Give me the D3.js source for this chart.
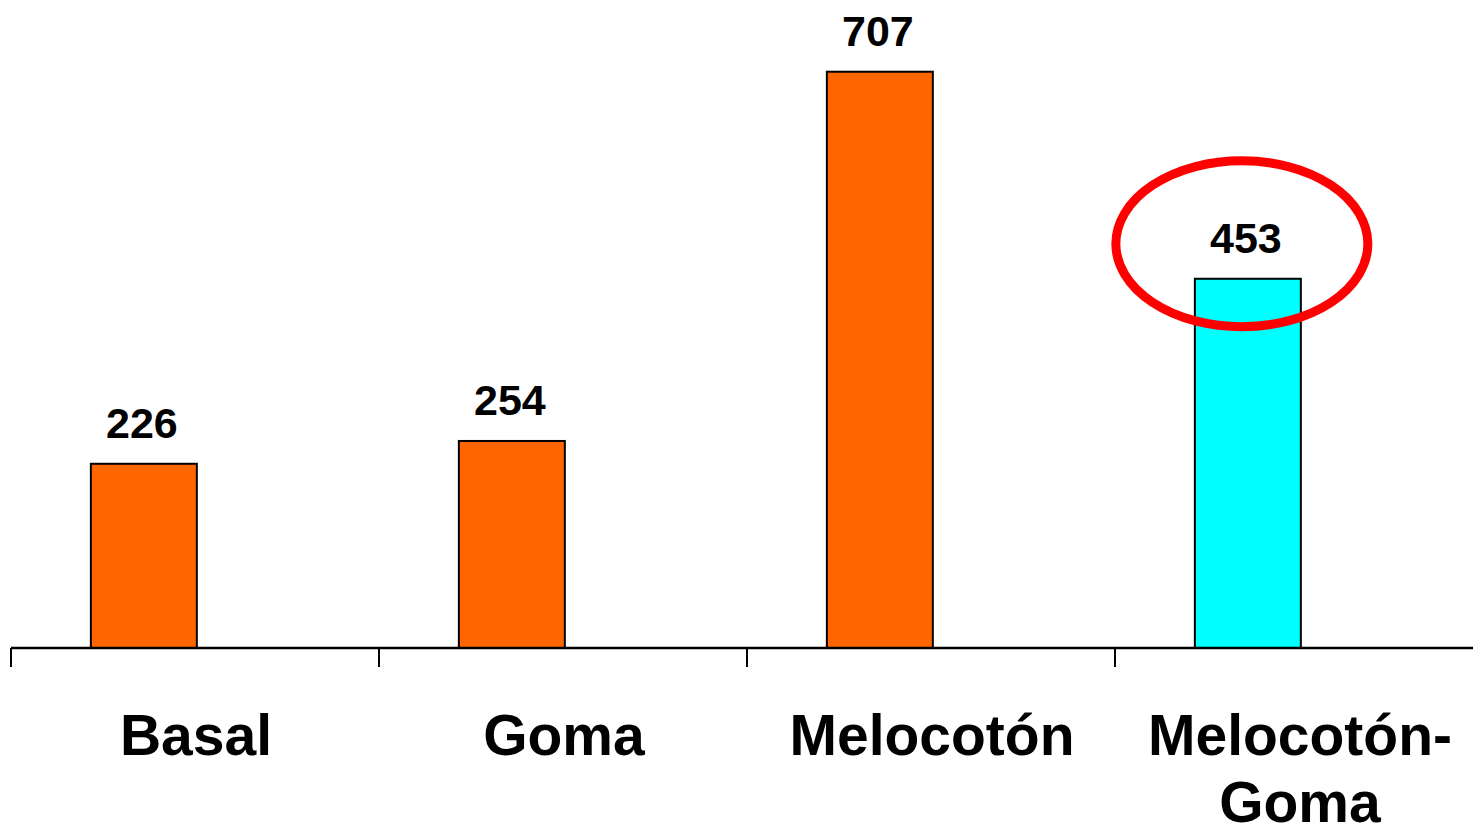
<!DOCTYPE html>
<html>
<head>
<meta charset="utf-8">
<script src="https://cdn.jsdelivr.net/npm/d3@7"></script>
<style>
  html, body { margin: 0; padding: 0; background: #fff; overflow: hidden; }
  svg { display: block; }
</style>
</head>
<body>
<svg id="chart" width="1473" height="832"></svg>
<script>
const categories = ["Basal", "Goma", "Melocotón", "Melocotón-Goma"];
const categoryLines = [["Basal"], ["Goma"], ["Melocotón"], ["Melocotón-", "Goma"]];
const values = [226, 254, 707, 453];
const barColors = ["#FF6600", "#FF6600", "#FF6600", "#00FFFF"];
const highlighted = "Melocotón-Goma";

const svg = d3.select("#chart");
const baseY = 648;

const x = d3.scaleBand().domain(categories).range([11, 11 + 4 * 368]).padding(0);
const y = d3.scaleLinear().domain([0, 795]).range([baseY, 0]);
const bw = x.bandwidth();
const barOff = bw * 0.217, barW = bw * 0.288;

// bars
svg.selectAll("rect.bar").data(categories).join("rect")
  .attr("class", "bar")
  .attr("x", d => x(d) + barOff)
  .attr("y", (d, i) => y(values[i]))
  .attr("width", barW)
  .attr("height", (d, i) => baseY - y(values[i]))
  .attr("fill", (d, i) => barColors[i])
  .attr("stroke", "#000")
  .attr("stroke-width", 2);

// value labels
svg.selectAll("text.val").data(categories).join("text")
  .attr("class", "val")
  .attr("x", d => x(d) + barOff + barW / 2 - 2)
  .attr("y", (d, i) => y(values[i]) - 26)
  .attr("text-anchor", "middle")
  .attr("font-family", "Liberation Sans, Arial, sans-serif")
  .attr("font-weight", "bold")
  .attr("font-size", 43)
  .attr("fill", "#000")
  .text((d, i) => values[i]);

// axis line and ticks
svg.append("line")
  .attr("x1", x.range()[0]).attr("x2", 1473)
  .attr("y1", baseY).attr("y2", baseY)
  .attr("stroke", "#000").attr("stroke-width", 2.5);
svg.selectAll("line.tick").data(categories).join("line")
  .attr("class", "tick")
  .attr("x1", d => x(d)).attr("x2", d => x(d))
  .attr("y1", baseY).attr("y2", baseY + 19)
  .attr("stroke", "#000").attr("stroke-width", 2);

// category labels
const lab = svg.selectAll("text.cat").data(categories).join("text")
  .attr("class", "cat")
  .attr("text-anchor", "middle")
  .attr("font-family", "Liberation Sans, Arial, sans-serif")
  .attr("font-weight", "bold")
  .attr("font-size", 57)
  .attr("fill", "#000");
lab.each(function(d, i) {
  const t = d3.select(this);
  categoryLines[i].forEach((ln, j) => {
    t.append("tspan")
      .attr("x", x(d) + bw / 2 + 1)
      .attr("y", 755 + j * 67)
      .text(ln);
  });
});

// highlight ellipse
const hi = categories.indexOf(highlighted);
svg.append("ellipse")
  .attr("cx", x(highlighted) + barOff + barW / 2 - 6)
  .attr("cy", y(values[hi]) - 35)
  .attr("rx", 126)
  .attr("ry", 83)
  .attr("fill", "none")
  .attr("stroke", "#FF0000")
  .attr("stroke-width", 9);
</script>
</body>
</html>
